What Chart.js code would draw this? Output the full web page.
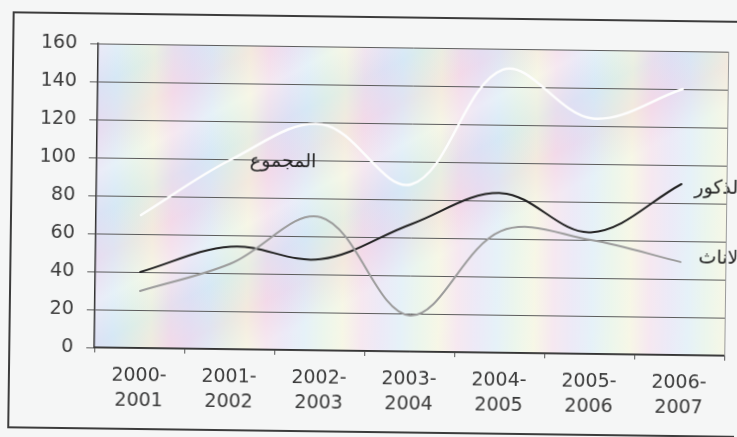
<!DOCTYPE html>
<html lang="ar">
<head>
<meta charset="utf-8">
<title>الذكور والاناث والمجموع 2000-2007</title>
<script src="https://cdn.jsdelivr.net/npm/chart.js@4/dist/chart.umd.min.js"></script>
<style>
  html, body { margin: 0; padding: 0; width: 737px; height: 437px; overflow: hidden; background: #f5f6f6; }
  #wrap { width: 737px; height: 437px; transform: rotate(0.75deg); transform-origin: 50% 50%; }
  canvas { display: block; }
</style>
</head>
<body>
<div id="wrap"><canvas id="chart" width="737" height="437"></canvas></div>
<script>
// Academic years (two-line tick labels)
const years = [
  ['2000-', '2001'], ['2001-', '2002'], ['2002-', '2003'], ['2003-', '2004'],
  ['2004-', '2005'], ['2005-', '2006'], ['2006-', '2007']
];

// Series values
const males   = [40, 54, 48, 67, 84, 64, 90];
const females = [30, 45, 70, 19, 64, 60, 49];
const totals  = [70, 100, 119, 88, 149, 124, 140];

// Series names written beside the curves
const maleName   = 'الذكور';
const femaleName = 'الاناث';
const totalName  = 'المجموع';

// Value axis
const yMin = 0, yMax = 160, yStep = 20;

const tickFont = { family: '"DejaVu Sans", sans-serif', size: 19 };
const nameFont = '19px "DejaVu Sans", sans-serif';

// Pastel iridescent fill behind the plot
const plotBackground = {
  id: 'plotBackground',
  beforeDraw(chart) {
    const { ctx, chartArea: a } = chart;
    ctx.save();
    const band = ['#f0d9e7', '#e0dcf2', '#d5e8f4', '#dff0e0', '#f1f1d6', '#f0d9e7'];
    const g1 = ctx.createLinearGradient(a.left - 20, 0, a.right + 20, 0);
    const reps = 7;
    for (let r = 0; r < reps; r++) {
      for (let i = 0; i < band.length - 1; i++) {
        g1.addColorStop((r + i / (band.length - 1)) / reps, band[i]);
      }
    }
    g1.addColorStop(1, band[0]);
    ctx.fillStyle = g1;
    ctx.fillRect(a.left, a.top, a.right - a.left, a.bottom - a.top);

    const g2 = ctx.createLinearGradient(a.left, a.top, a.left + 160, a.bottom);
    const soft = ['rgba(255,255,255,0.4)', 'rgba(215,232,248,0.35)', 'rgba(248,218,236,0.35)', 'rgba(255,255,255,0.4)'];
    const reps2 = 3;
    for (let r = 0; r < reps2; r++) {
      for (let i = 0; i < soft.length - 1; i++) {
        g2.addColorStop((r + i / (soft.length - 1)) / reps2, soft[i]);
      }
    }
    g2.addColorStop(1, soft[0]);
    ctx.fillStyle = g2;
    ctx.fillRect(a.left, a.top, a.right - a.left, a.bottom - a.top);
    ctx.restore();
  }
};

// Outer frame and the right edge of the plot
const frame = {
  id: 'frame',
  afterDraw(chart) {
    const { ctx, chartArea: a } = chart;
    ctx.save();
    ctx.strokeStyle = '#9a9a9a';
    ctx.lineWidth = 1;
    ctx.beginPath();
    ctx.moveTo(a.right + 0.5, a.top);
    ctx.lineTo(a.right + 0.5, a.bottom);
    ctx.stroke();

    ctx.strokeStyle = '#3c3c3c';
    ctx.lineWidth = 2;
    ctx.beginPath();
    ctx.moveTo(760, 17);
    ctx.lineTo(11, 17);
    ctx.lineTo(11, 432);
    ctx.lineTo(760, 432);
    ctx.stroke();
    ctx.restore();
  }
};

// Series names placed next to their curves
const seriesNames = {
  id: 'seriesNames',
  afterDatasetsDraw(chart) {
    const { ctx, scales: { x, y } } = chart;
    ctx.save();
    ctx.font = nameFont;
    ctx.fillStyle = '#1e1e1e';
    ctx.textBaseline = 'middle';
    const last = years.length - 1;

    ctx.textAlign = 'left';
    ctx.fillText(maleName, x.getPixelForValue(last) + 13, y.getPixelForValue(males[last]) + 4);
    ctx.fillText(femaleName, x.getPixelForValue(last) + 18, y.getPixelForValue(females[last]) - 4);

    ctx.textAlign = 'center';
    ctx.fillText(totalName, x.getPixelForValue(1.57), y.getPixelForValue(100) + 2);
    ctx.restore();
  }
};

new Chart(document.getElementById('chart'), {
  type: 'line',
  data: {
    labels: years,
    datasets: [
      { label: totalName,  data: totals,  borderColor: '#fdfdfd', borderWidth: 2.5 },
      { label: femaleName, data: females, borderColor: '#9c9c9c', borderWidth: 2 },
      { label: maleName,   data: males,   borderColor: '#232323', borderWidth: 2 }
    ]
  },
  options: {
    responsive: false,
    devicePixelRatio: 1,
    animation: false,
    layout: { padding: { top: 47, right: 11, bottom: 0, left: 0 } },
    elements: {
      point: { radius: 0, hoverRadius: 0 },
      line: { tension: 0.36, fill: false, borderCapStyle: 'round', borderJoinStyle: 'round' }
    },
    plugins: { legend: { display: false }, tooltip: { enabled: false }, title: { display: false } },
    scales: {
      x: {
        type: 'category',
        offset: true,
        grid: { offset: true, drawOnChartArea: false, drawTicks: true, tickLength: 5, color: '#555', lineWidth: 1 },
        border: { display: true, color: '#333', width: 1.5 },
        ticks: { color: '#3a3a3a', font: { ...tickFont, lineHeight: 1.34 }, padding: 10, maxRotation: 0, autoSkip: false },
        afterFit(scale) { scale.height = 86; }
      },
      y: {
        min: yMin,
        max: yMax,
        grid: { color: '#5c5c5c', lineWidth: 1, tickLength: 8 },
        border: { display: true, color: '#333', width: 1.5 },
        ticks: { stepSize: yStep, color: '#3a3a3a', font: tickFont, padding: 13 },
        afterFit(scale) { scale.width = 96; }
      }
    }
  },
  plugins: [plotBackground, frame, seriesNames]
});
</script>
</body>
</html>
